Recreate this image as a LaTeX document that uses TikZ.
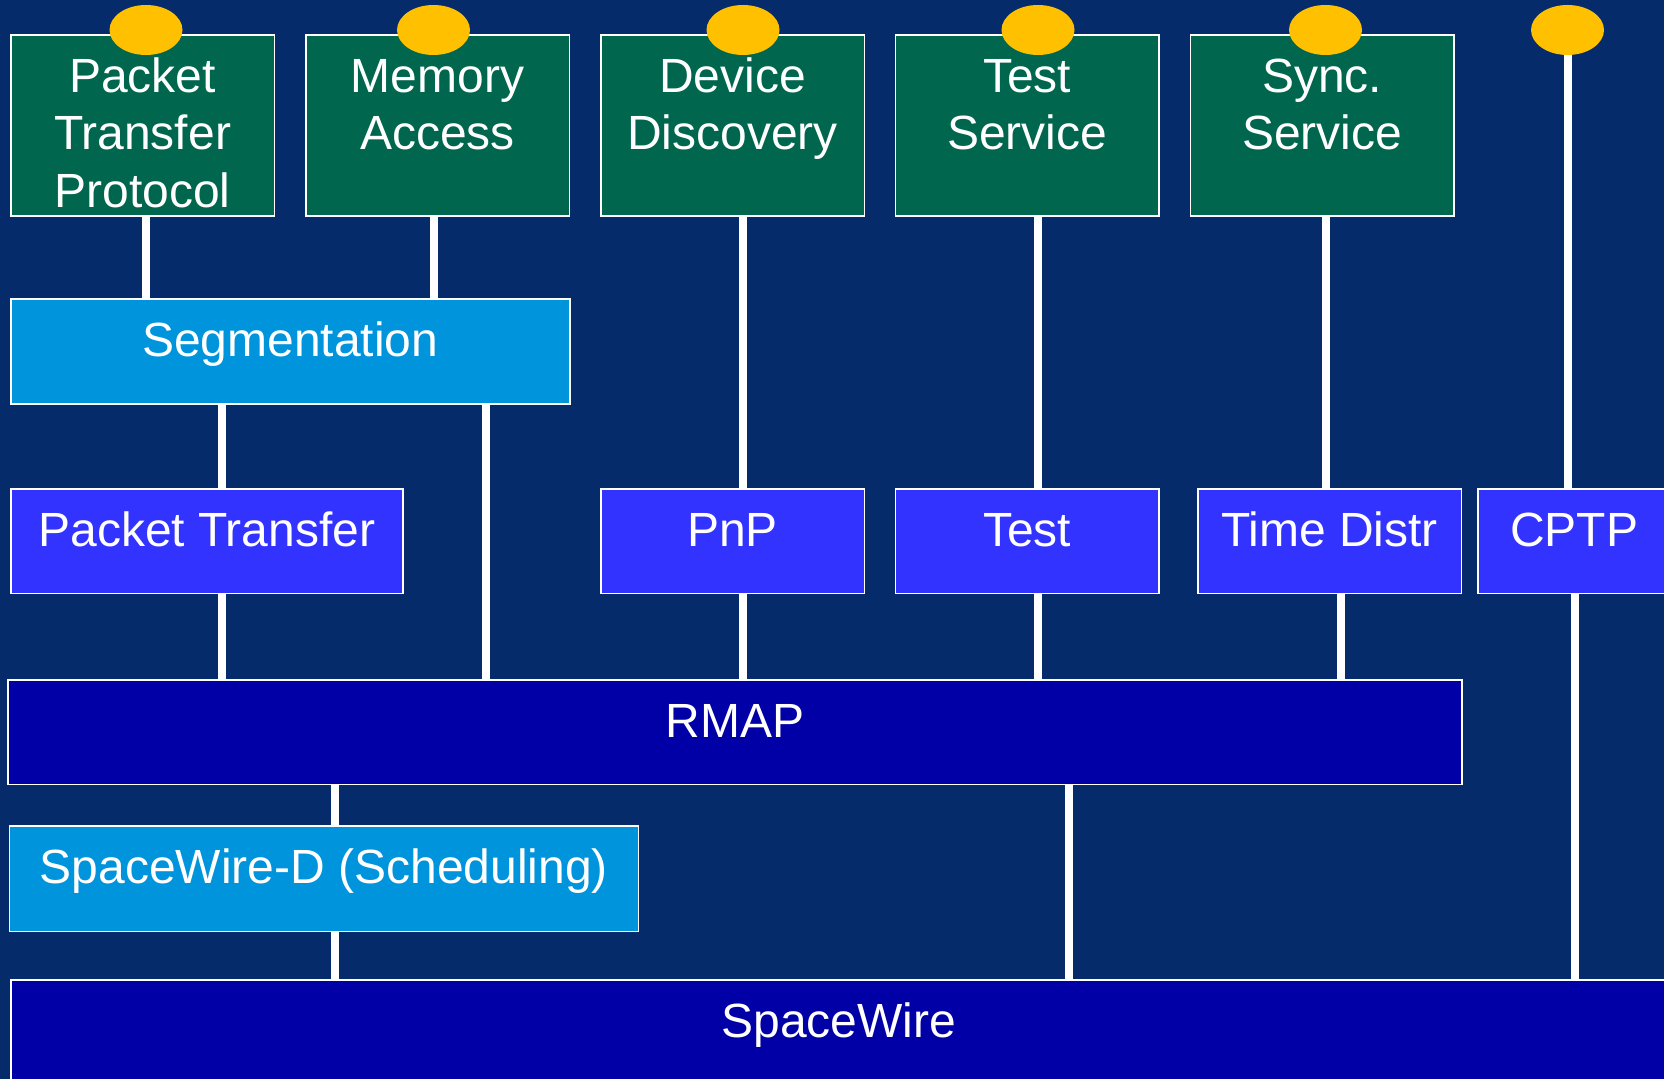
\documentclass[tikz,border=0pt]{standalone}
\usepackage{fontspec}
\setmainfont{Liberation Sans}
\usetikzlibrary{shapes.geometric}
\definecolor{bgblue}{RGB}{6,43,107}
\definecolor{svgreen}{RGB}{0,103,78}
\definecolor{dotyellow}{RGB}{255,192,0}
\definecolor{ltblue}{RGB}{0,148,220}
\definecolor{midblue}{RGB}{51,51,255}
\definecolor{dkblue}{RGB}{0,0,166}
\tikzset{
  box/.style={draw=white, line width=0.8pt, inner sep=0pt, anchor=north west},
  svc/.style={box, fill=svgreen, minimum width=131.75pt, minimum height=90.75pt},
  lay/.style={box, minimum height=52.25pt},
  dot/.style={ellipse, fill=dotyellow, inner sep=0pt, minimum width=36.5pt, minimum height=25pt},
  lbl/.style={anchor=north, inner sep=0pt, align=center, text=white, font=\fontsize{24}{28.75}\selectfont},
  wire/.style={draw=white, line width=4pt}
}
\newcommand{\fs}{\rule{0pt}{20pt}}
\begin{document}
\begin{tikzpicture}[x=0.5pt, y=-0.5pt]
\useasboundingbox (0,0) rectangle (1664,1079);
\clip (0,0) rectangle (1664,1079);
\fill[bgblue] (0,0) rectangle (1664,1079);

% service boxes
\node[svc] (ptp)  at (10,34) {};
\node[svc] (ma)   at (305,34) {};
\node[svc] (dd)   at (600,34) {};
\node[svc] (ts)   at (894.5,34) {};
\node[svc] (sync) at (1189.5,34) {};

% layer boxes
\node[lay, fill=ltblue, minimum width=279.5pt, minimum height=52.5pt] (seg) at (10,298.5) {};
\node[lay, fill=midblue, minimum width=196pt] (pt) at (10,488) {};
\node[lay, fill=midblue, minimum width=131.75pt] (pnp) at (600,488) {};
\node[lay, fill=midblue, minimum width=131.75pt] (test) at (894.5,488) {};
\node[lay, fill=midblue, minimum width=131.75pt] (td) at (1197,488) {};
\node[lay, fill=midblue, minimum width=96.5pt] (cptp) at (1477,488) {};
\node[lay, fill=dkblue, minimum width=727pt] (rmap) at (7,679) {};
\node[lay, fill=dkblue, minimum width=828pt, minimum height=60pt] (sw) at (10,979) {};
\node[lay, fill=ltblue, minimum width=314.5pt, minimum height=52.75pt] (swd) at (8.5,825) {};

% service access points
\node[dot] (e1) at (146,30) {};
\node[dot] (e2) at (433.5,30) {};
\node[dot] (e3) at (743,30) {};
\node[dot] (e4) at (1038,30) {};
\node[dot] (e5) at (1325.5,30) {};
\node[dot] (e6) at (1567.5,30) {};

% bus x positions
\coordinate (xa) at (222,0);
\coordinate (xb) at (486,0);
\coordinate (xc) at (1340.5,0);
\coordinate (xd) at (335,0);
\coordinate (xe) at (1068.5,0);
\coordinate (xf) at (1575,0);

% connectors
\draw[wire] (e1 |- ptp.south) -- (e1 |- seg.north);
\draw[wire] (e2 |- ma.south) -- (e2 |- seg.north);
\draw[wire] (e3 |- dd.south) -- (e3 |- pnp.north);
\draw[wire] (e4 |- ts.south) -- (e4 |- test.north);
\draw[wire] (e5 |- sync.south) -- (e5 |- td.north);
\draw[wire] (e6.south) -- (e6 |- cptp.north);
\draw[wire] (xa |- seg.south) -- (xa |- pt.north);
\draw[wire] (xb |- seg.south) -- (xb |- rmap.north);
\draw[wire] (xa |- pt.south) -- (xa |- rmap.north);
\draw[wire] (e3 |- pnp.south) -- (e3 |- rmap.north);
\draw[wire] (e4 |- test.south) -- (e4 |- rmap.north);
\draw[wire] (xc |- td.south) -- (xc |- rmap.north);
\draw[wire] (xd |- rmap.south) -- (xd |- swd.north);
\draw[wire] (xd |- swd.south) -- (xd |- sw.north);
\draw[wire] (xe |- rmap.south) -- (xe |- sw.north);
\draw[wire] (xf |- cptp.south) -- (xf |- sw.north);

% labels
\node[lbl] (tptp)  at ([yshift=-9pt]ptp.north)  {\fs Packet\\Transfer\\Protocol};
\node[lbl] (tma)   at ([yshift=-9pt]ma.north)   {\fs Memory\\Access};
\node[lbl] (tdd)   at ([yshift=-9pt]dd.north)   {\fs Device\\Discovery};
\node[lbl] (tts)   at ([yshift=-9pt]ts.north)   {\fs Test\\Service};
\node[lbl] (tsync) at ([yshift=-9pt]sync.north) {\fs Sync.\\Service};
\node[lbl] (tseg)  at ([yshift=-9pt]seg.north)  {\fs Segmentation};
\node[lbl] (tpt)   at ([yshift=-9pt]pt.north)   {\fs Packet Transfer};
\node[lbl] (tpnp)  at ([yshift=-9pt]pnp.north)  {\fs PnP};
\node[lbl] (ttest) at ([yshift=-9pt]test.north) {\fs Test};
\node[lbl] (ttd)   at ([yshift=-9pt]td.north)   {\fs Time Distr};
\node[lbl] (tcptp) at ([yshift=-9pt]cptp.north) {\fs CPTP};
\node[lbl] (trmap) at ([yshift=-9pt]rmap.north) {\fs RMAP};
\node[lbl] (tswd)  at ([yshift=-9pt]swd.north)  {\fs SpaceWire-D (Scheduling)};
\node[lbl] (tsw)   at ([yshift=-9pt]sw.north)   {\fs SpaceWire};
\end{tikzpicture}
\end{document}
